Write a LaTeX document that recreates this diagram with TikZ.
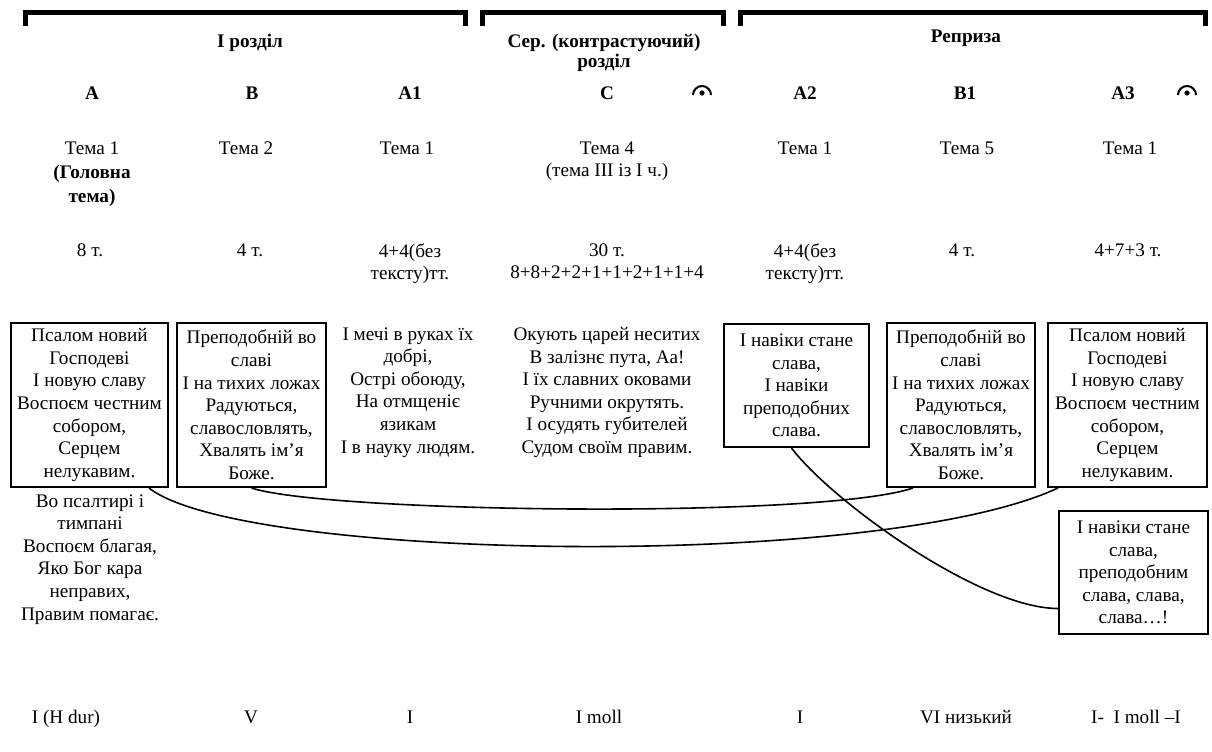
\documentclass[tikz,border=0pt]{standalone}
\usepackage{fontspec}
\setmainfont{Liberation Serif}
\usetikzlibrary{calc}

\begin{document}
\begin{tikzpicture}[x=0.5pt, y=-0.5pt, font=\fontsize{9.6}{11.3}\selectfont]

	\tikzstyle{verse}=[draw,line width=1pt,align=center,inner sep=1pt,anchor=north west,minimum height=82pt]
	\tikzstyle{lyric}=[align=center,inner sep=0pt,anchor=north]
	\tikzstyle{head}=[font=\fontsize{9.6}{11.3}\selectfont\bfseries,align=center]
	\tikzstyle{key}=[anchor=base]
	\tikzstyle{bracket}=[line width=2.5pt]
	\tikzstyle{link}=[line width=0.8pt]
	\useasboundingbox (0,0) rectangle (1212,751);

	% brackets over the three parts
	\draw[bracket] (25,26) -- (25,12) -- (465,12) -- (465,26);
	\draw[bracket] (482,26) -- (482,12) -- (723,12) -- (723,26);
	\draw[bracket] (740,26) -- (740,12) -- (1205,12) -- (1205,26);
	\node[head] (sec1) at (250,43) {І розділ};
	\node[head] (sec2) at (604,53) {Сер. (контрастуючий)\\[-1.3pt]розділ};
	\node[head] (sec3) at (966,38) {Реприза};

	% sections
	\node[head] (A) at (92,93) {A};
	\node[head] (B) at (252,93) {B};
	\node[head] (A1) at (410,93) {A1};
	\node[head] (C) at (607,93) {C};
	\node[head] (A2) at (805,93) {A2};
	\node[head] (B1) at (965,93) {B1};
	\node[head] (A3) at (1123,93) {A3};
	% fermatas
	\draw[line width=1pt] (693,95) arc[start angle=180,end angle=0,radius=4.5pt];
	\fill (702,93) circle (1.3pt);
	\draw[line width=1pt] (1178,95) arc[start angle=180,end angle=0,radius=4.5pt];
	\fill (1187,93) circle (1.3pt);

	% themes
	\node[lyric] (temaA) at (92,141) {Тема 1\\[0.7pt]\textbf{(Головна}\\[0.7pt]\textbf{тема)}};
	\node[lyric] (temaB) at (246,141) {Тема 2};
	\node[lyric] (temaA1) at (407,141) {Тема 1};
	\node[lyric] (temaC) at (607,141) {Тема 4\\(тема ІІІ із І ч.)};
	\node[lyric] (temaA2) at (805,141) {Тема 1};
	\node[lyric] (temaB1) at (967,142) {Тема 5};
	\node[lyric] (temaA3) at (1130,141) {Тема 1};

	% bars
	\node[lyric] (barsA) at (90,243) {8 т.};
	\node[lyric] (barsB) at (250,243) {4 т.};
	\node[lyric] (barsA1) at (410,243) {4+4(без\\тексту)тт.};
	\node[lyric] (barsC) at (607,243) {30 т.\\8+8+2+2+1+1+2+1+1+4};
	\node[lyric] (barsA2) at (805,243) {4+4(без\\тексту)тт.};
	\node[lyric] (barsB1) at (962,243) {4 т.};
	\node[lyric] (barsA3) at (1128,243) {4+7+3 т.};

	% texts
	\node[verse,minimum width=78.5pt] (boxA) at (10,322)
		{Псалом новий\\Господеві\\І новую славу\\Воспоєм честним\\собором,\\Серцем\\нелукавим.};
	\node[verse,minimum width=74.5pt] (boxB) at (176,322)
		{Преподобній во\\славі\\І на тихих ложах\\Радуються,\\славословлять,\\Хвалять ім'я\\Боже.};
	\node[lyric] (txtA1) at (408,327)
		{І мечі в руках їх\\добрі,\\Острі обоюду,\\На отмщеніє\\язикам\\І в науку людям.};
	\node[lyric] (txtC) at (607,327)
		{Окують царей неситих\\В залізнє пута, Аа!\\І їх славних оковами\\Ручними окрутять.\\І осудять губителей\\Судом своїм правим.};
	\node[verse,minimum width=72.5pt,minimum height=61.5pt] (boxA2) at (723,323)
		{І навіки стане\\слава,\\І навіки\\преподобних\\слава.};
	\node[verse,minimum width=74pt] (boxB1) at (886,322)
		{Преподобній во\\славі\\І на тихих ложах\\Радуються,\\славословлять,\\Хвалять ім'я\\Боже.};
	\node[verse,minimum width=79.5pt] (boxA3) at (1047,322)
		{Псалом новий\\Господеві\\І новую славу\\Воспоєм честним\\собором,\\Серцем\\нелукавим.};
	\node[lyric] (txtA) at (90,494)
		{Во псалтирі і\\тимпані\\Воспоєм благая,\\Яко Бог кара\\неправих,\\Правим помагає.};
	\node[verse,minimum width=74.5pt,minimum height=61.5pt] (boxX) at (1058,510)
		{І навіки стане\\слава,\\преподобним\\слава, слава,\\слава…!};

	% returns of the themes
	\draw[link] (boxB.south) .. controls +(77,25) and +(-92,31) .. ($(boxB1.south)+(-48,0)$);
	\draw[link] ($(boxA.south east)+(-20,0)$) .. controls +(93,73) and +(-178,83) .. ($(boxA3.south west)+(11,0)$);
	\draw[link] ($(boxA2.south)+(-5,0)$) .. controls +(40,53) and +(-78,0) .. ($(boxX.west)+(0,36)$);

	% keys
	\node[key] (keyA) at (66,723) {І (H dur)};
	\node[key] (keyB) at (251,723) {V};
	\node[key] (keyA1) at (410,723) {І};
	\node[key] (keyC) at (599,723) {І moll};
	\node[key] (keyA2) at (800,723) {І};
	\node[key] (keyB1) at (966,723) {VI низький};
	\node[key] (keyA3) at (1136,723) {І-\ \ І moll –І};

\end{tikzpicture}
\end{document}
